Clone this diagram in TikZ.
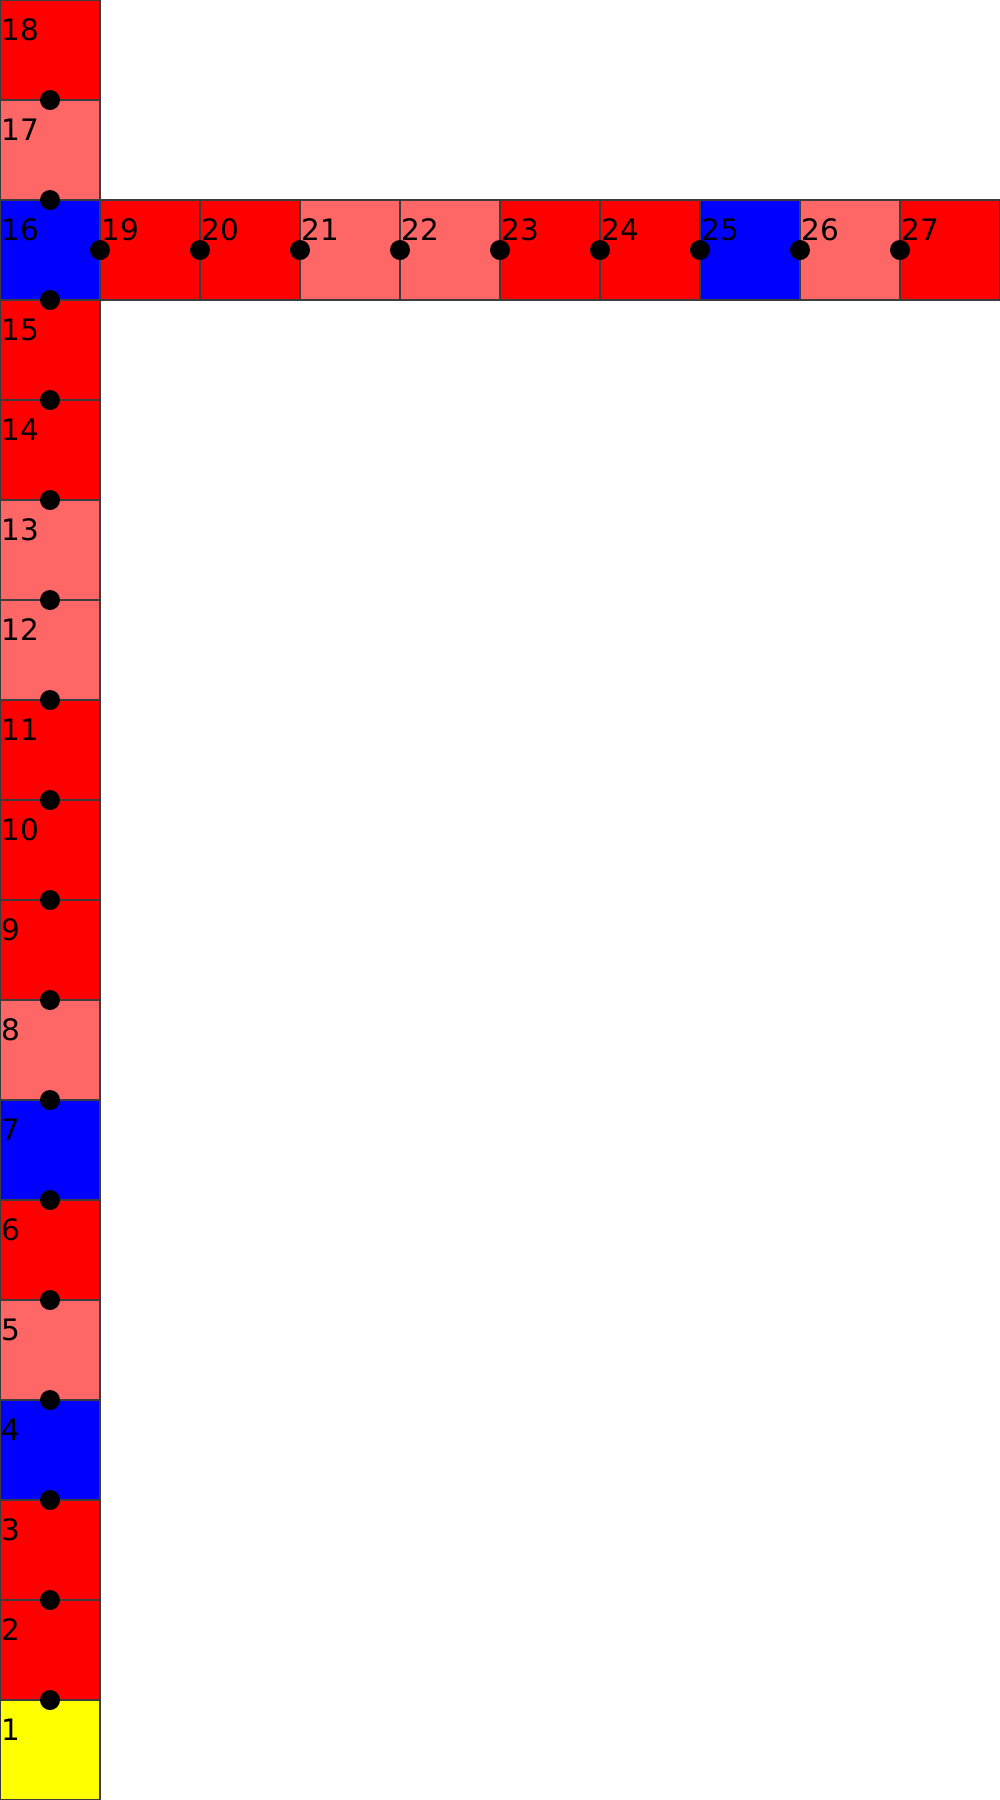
\documentclass[tikz,border=0pt]{standalone}
\usepackage{fontspec}
\setmainfont{DejaVu Sans}
\usetikzlibrary{positioning}
\definecolor{cellred}{RGB}{255,0,0}
\definecolor{celllight}{RGB}{255,102,102}
\definecolor{cellblue}{RGB}{0,0,255}
\definecolor{cellyellow}{RGB}{255,255,0}
\definecolor{edge}{RGB}{60,60,60}

\tikzset{
  cellbox/.style={draw=edge, line width=0.3pt, rectangle, minimum width=1cm,
    minimum height=1cm, inner sep=0pt, outer sep=0pt},
  cellnum/.style={anchor=base west, inner sep=0pt, font=\fontsize{8.4}{10}\selectfont},
  joint/.style={fill=black}
}

\begin{document}
\begin{tikzpicture}
\useasboundingbox (0,0) rectangle (10,-18);
% --- vertical column, cell 1 at the bottom ---
\foreach \k/\col in {1/cellyellow, 2/cellred, 3/cellred, 4/cellblue, 5/celllight,
    6/cellred, 7/cellblue, 8/celllight, 9/cellred, 10/cellred, 11/cellred,
    12/celllight, 13/celllight, 14/cellred, 15/cellred, 16/cellblue,
    17/celllight, 18/cellred}
  \node[cellbox, fill=\col] (c\k) at (0.5,{\k-18.5}) {};
% --- horizontal row, leaving cell 16 ---
\foreach \k/\col in {19/cellred, 20/cellred, 21/celllight, 22/celllight,
    23/cellred, 24/cellred, 25/cellblue, 26/celllight, 27/cellred}
  \node[cellbox, fill=\col] (c\k) at ({\k-17.5},-2.5) {};
% cell numbers (top left corner)
\foreach \k in {1,...,27}
  \node[cellnum] (n\k) at ([xshift=0.01cm, yshift=-0.4cm]c\k.north west) {\k};
% joints between neighbouring cells
\foreach \k in {1,...,17}
  \fill[joint] (c\k.north) circle (0.1);
\foreach \k in {19,...,27}
  \fill[joint] (c\k.west) circle (0.1);
\end{tikzpicture}
\end{document}
